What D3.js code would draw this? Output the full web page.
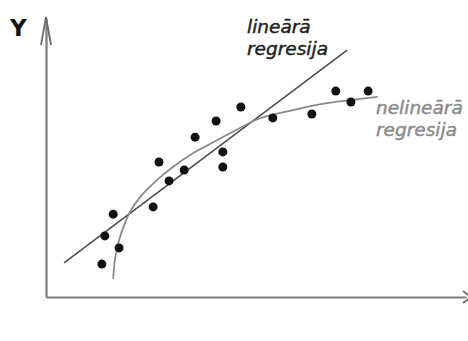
<!DOCTYPE html>
<html>
<head>
<meta charset="utf-8">
<script src="https://cdn.jsdelivr.net/npm/d3@7"></script>
<style>
  html, body { margin: 0; padding: 0; background: #fff; }
  .axis path { stroke: #7a7a7a; stroke-width: 2.2; }
  .lbl { font-family: "DejaVu Sans", sans-serif; font-style: italic; stroke-width: 0.45; }
</style>
</head>
<body>
<div id="canvas"></div>
<script>
// data (0..100 units on both axes)
var pointsX = [13.3, 14.0, 16.0, 17.4, 25.5, 26.9, 29.3, 32.9, 35.5, 40.5, 42.1, 42.1, 46.4, 54.0, 63.3, 69.0, 72.6, 76.7];
var pointsY = [11.8, 21.9, 29.7, 17.6, 32.3, 48.4, 41.6, 45.5, 57.3, 63.1, 52.0, 46.6, 68.1, 64.2, 65.6, 73.8, 69.9, 73.8];

// linear regression line end points
var linX = [4.3, 71.7];
var linY = [12.2, 88.5];

// nonlinear regression curve, traced
var curveX = [16.0, 16.4, 17.4, 18.8, 20.0, 22.4, 26.4, 30.2, 34.3, 38.6, 46.2, 50.5, 58.8, 66.9, 72.6, 79.0];
var curveY = [6.5, 13.3, 20.4, 26.5, 30.5, 35.8, 41.9, 46.6, 50.9, 54.5, 60.6, 63.8, 67.0, 69.5, 70.6, 71.7];

var labelLinear = ['lineārā', 'regresija'];
var labelNonlinear = ['nelineārā', 'regresija'];

var W = 468, H = 341;

var svg = d3.select('#canvas')
    .append('svg')
    .attr('width', W)
    .attr('height', H);

var scaleX = d3.scaleLinear().domain([0, 100]).range([46, 466]);
var scaleY = d3.scaleLinear().domain([0, 100]).range([297, 18]);

// axes without ticks
svg.append('g')
    .attr('class', 'axis')
    .attr('transform', 'translate(0,' + scaleY(0) + ')')
    .call(d3.axisBottom(scaleX).tickValues([]).tickSizeOuter(0));

svg.append('g')
    .attr('class', 'axis')
    .attr('transform', 'translate(' + scaleX(0) + ',0)')
    .call(d3.axisLeft(scaleY).tickValues([]).tickSizeOuter(0));

// arrow heads
var x0 = scaleX(0), yTop = scaleY(100);
svg.append('path')
    .attr('d', 'M' + (x0 - 5) + ',' + (yTop + 27) + 'L' + x0 + ',' + (yTop - 1) + 'L' + (x0 + 5) + ',' + (yTop + 27))
    .attr('fill', 'none')
    .attr('stroke', '#6a6a6a')
    .attr('stroke-width', 1.8);

var xRight = scaleX(100), y0 = scaleY(0);
svg.append('path')
    .attr('d', 'M' + (xRight - 3) + ',' + (y0 - 6) + 'L' + (xRight + 5) + ',' + y0 + 'L' + (xRight - 3) + ',' + (y0 + 6))
    .attr('fill', 'none')
    .attr('stroke', '#6a6a6a')
    .attr('stroke-width', 1.8);

// linear regression
var line = d3.line()
    .x(function(d){ return scaleX(d[0]); })
    .y(function(d){ return scaleY(d[1]); });

svg.append('path')
    .datum(d3.zip(linX, linY))
    .attr('d', line)
    .attr('fill', 'none')
    .attr('stroke', '#4a4a4a')
    .attr('stroke-width', 1.5);

// nonlinear regression
svg.append('path')
    .datum(d3.zip(curveX, curveY))
    .attr('d', line.curve(d3.curveCatmullRom))
    .attr('fill', 'none')
    .attr('stroke', '#8a8a8a')
    .attr('stroke-width', 1.8);

// points
svg.selectAll('.dot')
    .data(d3.zip(pointsX, pointsY))
    .enter()
    .append('circle')
    .attr('class', 'dot')
    .attr('cx', function(d){ return scaleX(d[0]); })
    .attr('cy', function(d){ return scaleY(d[1]); })
    .attr('r', 4.5)
    .attr('fill', '#111');

// labels
svg.append('text')
    .attr('x', 10)
    .attr('y', 36)
    .attr('font-family', '"DejaVu Sans", sans-serif')
    .attr('font-weight', 'bold')
    .attr('font-size', 23)
    .attr('fill', '#111')
    .text('Y');

svg.append('text')
    .attr('class', 'lbl')
    .attr('x', 247)
    .attr('y', 33)
    .attr('font-size', 18.5)
    .attr('fill', '#222')
    .attr('stroke', '#222')
    .selectAll('tspan')
    .data(labelLinear)
    .enter()
    .append('tspan')
    .attr('x', 247)
    .attr('dy', function(d, i){ return i ? 22 : 0; })
    .text(function(d){ return d; });

svg.append('text')
    .attr('class', 'lbl')
    .attr('x', 376)
    .attr('y', 114)
    .attr('font-size', 18.5)
    .attr('fill', '#8a8a8a')
    .attr('stroke', '#8a8a8a')
    .selectAll('tspan')
    .data(labelNonlinear)
    .enter()
    .append('tspan')
    .attr('x', 376)
    .attr('dy', function(d, i){ return i ? 22 : 0; })
    .text(function(d){ return d; });
</script>
</body>
</html>
